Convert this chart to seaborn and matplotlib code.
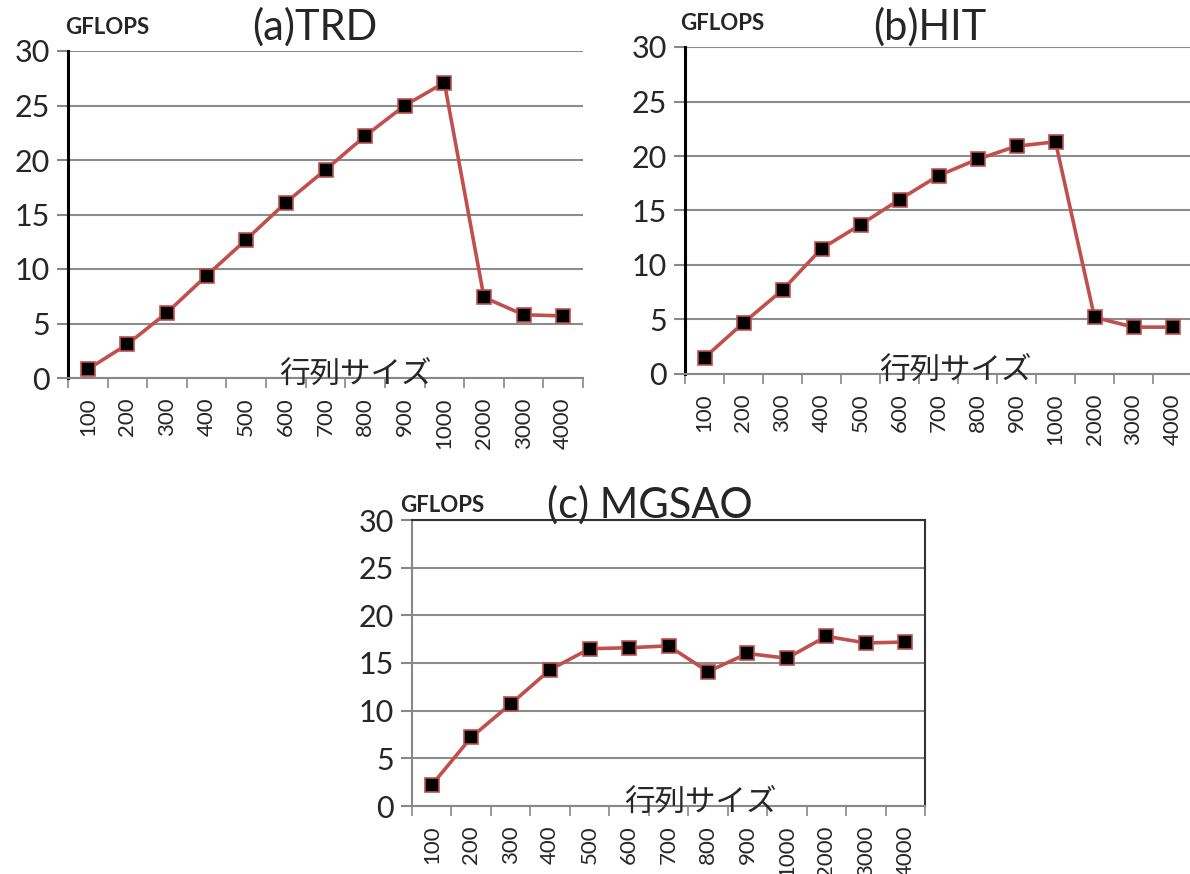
import numpy as np
import pandas as pd
import matplotlib
matplotlib.use("Agg")
import matplotlib.pyplot as plt
import seaborn as sns

sizes = ["100", "200", "300", "400", "500", "600", "700", "800", "900", "1000", "2000", "3000", "4000"]
trd = [0.8, 3.1, 6.0, 9.4, 12.7, 16.1, 19.1, 22.2, 25.0, 27.1, 7.4, 5.8, 5.7]
hit = [1.5, 4.7, 7.7, 11.5, 13.7, 16.0, 18.2, 19.7, 20.9, 21.3, 5.2, 4.3, 4.3]
mgsao = [2.2, 7.2, 10.7, 14.3, 16.5, 16.6, 16.8, 14.1, 16.0, 15.5, 17.8, 17.1, 17.2]
titles = ["(a)TRD", "(b)HIT", "(c) MGSAO"]
ylabel = "GFLOPS"
xlabel = "行列サイズ"
yticks = [0, 5, 10, 15, 20, 25, 30]

sns.set_theme(style="white")
plt.rcParams["font.family"] = ["Lato", "Noto Sans CJK JP", "DejaVu Sans"]

W, H = 1190, 874
fig = plt.figure(figsize=(W / 100, H / 100), dpi=100)

def px_axes(left, right, top, bottom):
    return fig.add_axes([left / W, (H - bottom) / H, (right - left) / W, (bottom - top) / H])

panels = [
    dict(vals=trd, box=(68, 583, 51, 378), boxed=False,
         title_xy=(315, 27), gf_xy=(65, 27), xl_xy=(355, 378)),
    dict(vals=hit, box=(685, 1192, 47, 374), boxed=False,
         title_xy=(930, 27), gf_xy=(680, 24), xl_xy=(955, 374)),
    dict(vals=mgsao, box=(412, 925, 520, 806), boxed=True,
         title_xy=(650, 505), gf_xy=(400, 505), xl_xy=(700, 806)),
]

line_color = "#C0504D"
for p, title in zip(panels, titles):
    ax = px_axes(*p["box"])
    df = pd.DataFrame({"pos": np.arange(len(sizes)), "val": p["vals"]})
    sns.lineplot(data=df, x="pos", y="val", ax=ax, color=line_color, linewidth=2.6,
                 marker="s", markersize=10, markerfacecolor="black",
                 markeredgecolor=line_color, markeredgewidth=1.2, sort=False)
    ax.set_xlim(-0.5, len(sizes) - 0.5)
    ax.set_ylim(0, 30)
    ax.set_yticks(yticks)
    ax.set_yticklabels([str(t) for t in yticks], fontsize=22)
    ax.set_xticks(np.arange(len(sizes)))
    ax.set_xticklabels(sizes, rotation=90, fontsize=16)
    ax.set_xticks(np.arange(len(sizes) + 1) - 0.5, minor=True)
    ax.tick_params(axis="x", which="major", length=0, pad=14)
    ax.tick_params(axis="x", which="minor", length=7, color="#888888", width=1.2, bottom=True)
    ax.tick_params(axis="y", length=8, color="#888888", width=1.5, left=True, pad=5)
    ax.set_xlabel("")
    ax.set_ylabel("")
    ax.grid(axis="y", color="#8c8c8c", linewidth=1.5)
    ax.grid(axis="x", visible=False)
    ax.set_axisbelow(True)
    for s in ["top", "right"]:
        ax.spines[s].set_visible(p["boxed"])
        ax.spines[s].set_color("#333333")
        ax.spines[s].set_linewidth(1.5)
    ax.spines["left"].set_color("black" if not p["boxed"] else "#888888")
    ax.spines["left"].set_linewidth(2.2 if not p["boxed"] else 1.5)
    ax.spines["bottom"].set_color("#888888")
    ax.spines["bottom"].set_linewidth(1.5)

    tx, ty = p["title_xy"]
    fig.text(tx / W, 1 - ty / H, title, fontsize=30, ha="center", va="center")
    gx, gy = p["gf_xy"]
    fig.text(gx / W, 1 - gy / H, ylabel, fontsize=16, fontweight="bold", ha="left", va="center")
    lx, ly = p["xl_xy"]
    fig.text(lx / W, 1 - (ly - 4) / H, xlabel, fontsize=22, ha="center", va="center")

fig.savefig("out.png", dpi=100)
